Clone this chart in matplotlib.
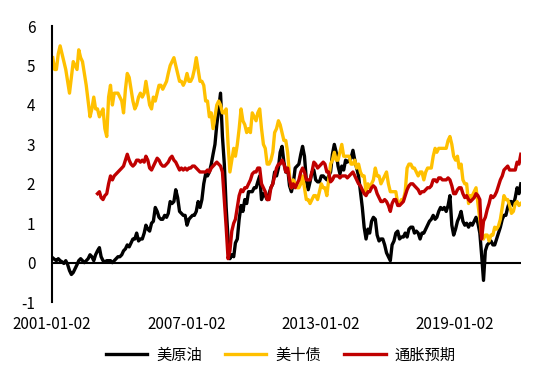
import numpy as np
import pandas as pd
import matplotlib
matplotlib.use('Agg')
import matplotlib.pyplot as plt

plt.rcParams['font.family'] = ['Noto Sans CJK SC', 'DejaVu Sans']
plt.rcParams['axes.unicode_minus'] = False

# 月度数据 2001-01 ~ 2021-12
dates = pd.date_range('2001-01-01', periods=252, freq='MS') + pd.Timedelta(days=14)

# 美原油
oil = [
    0.12, 0.08, 0.05, 0.1, 0.05, 0.02, -0.02, 0.05, -0.05, -0.2, -0.3, -0.25,
    -0.15, -0.05, 0.05, 0.1, 0.05, 0.0, 0.05, 0.1, 0.2, 0.15, 0.05, 0.2,
    0.3, 0.38, 0.15, 0.05, 0.02, 0.05, 0.05, 0.05, 0.0, 0.05, 0.1, 0.15,
    0.15, 0.2, 0.3, 0.35, 0.45, 0.4, 0.5, 0.6, 0.6, 0.75, 0.55, 0.6,
    0.6, 0.75, 0.95, 0.85, 0.8, 1.0, 1.05, 1.4, 1.3, 1.15, 1.1, 1.1,
    1.2, 1.15, 1.25, 1.55, 1.5, 1.55, 1.85, 1.65, 1.3, 1.25, 1.2, 1.2,
    0.95, 1.1, 1.15, 1.2, 1.2, 1.3, 1.55, 1.4, 1.6, 2.0, 2.25, 2.2,
    2.3, 2.5, 2.75, 3.0, 3.5, 3.9, 4.3, 3.2, 2.5, 1.4, 0.6, 0.1,
    0.2, 0.15, 0.5, 0.6, 1.1, 1.45, 1.3, 1.6, 1.5, 1.8, 1.8, 1.8,
    1.9, 1.9, 2.05, 2.2, 1.6, 1.75, 1.7, 1.6, 1.75, 1.9, 2.0, 2.3,
    2.2, 2.4, 2.8, 2.95, 2.55, 2.3, 2.4, 1.95, 1.8, 2.0, 2.4, 2.45,
    2.5, 2.75, 2.95, 2.7, 2.1, 1.85, 2.05, 2.3, 2.35, 2.1, 2.05, 2.05,
    2.2, 2.2, 2.15, 2.1, 2.2, 2.3, 2.75, 3.0, 2.8, 2.45, 2.25, 2.45,
    2.35, 2.6, 2.55, 2.6, 2.65, 2.85, 2.6, 2.4, 2.2, 1.8, 1.4, 0.9,
    0.6, 0.85, 0.75, 1.05, 1.15, 1.1, 0.7, 0.55, 0.6, 0.6, 0.45, 0.25,
    0.15, 0.05, 0.45, 0.55, 0.75, 0.8, 0.6, 0.65, 0.65, 0.75, 0.65, 0.85,
    0.9, 0.9, 0.75, 0.8, 0.75, 0.6, 0.75, 0.75, 0.85, 0.95, 1.05, 1.1,
    1.2, 1.1, 1.15, 1.3, 1.4, 1.35, 1.4, 1.3, 1.45, 1.7, 0.95, 0.7,
    0.85, 1.05, 1.15, 1.3, 1.05, 0.95, 1.0, 0.9, 1.0, 0.95, 1.05, 1.15,
    1.0, 0.75, 0.2, -0.45, 0.3, 0.45, 0.5, 0.55, 0.45, 0.45, 0.6, 0.75,
    0.9, 1.1, 1.2, 1.2, 1.4, 1.55, 1.55, 1.45, 1.65, 1.9, 1.75, 2.0,
]

# 美十债
ust10 = [
    5.2, 4.9, 4.9, 5.3, 5.5, 5.3, 5.1, 4.9, 4.6, 4.3, 4.7, 5.1,
    5.0, 4.9, 5.4, 5.2, 5.1, 4.8, 4.5, 4.1, 3.7, 3.9, 4.2, 3.9,
    3.9, 3.7, 3.8, 3.9, 3.4, 3.2, 4.2, 4.5, 4.0, 4.3, 4.3, 4.3,
    4.2, 4.1, 3.8, 4.4, 4.8, 4.7, 4.4, 4.1, 3.9, 4.0, 4.2, 4.3,
    4.2, 4.3, 4.6, 4.3, 4.0, 3.9, 4.2, 4.1, 4.3, 4.5, 4.5, 4.4,
    4.5, 4.6, 4.8, 5.0, 5.1, 5.2, 5.0, 4.8, 4.6, 4.6, 4.5, 4.6,
    4.8, 4.6, 4.6, 4.7, 4.9, 5.2, 4.9, 4.6, 4.6, 4.5, 4.1, 4.1,
    3.7, 3.8, 3.4, 3.7, 4.0, 4.1, 4.0, 3.8, 3.8, 3.9, 3.0, 2.3,
    2.6, 2.9, 2.7, 3.0, 3.4, 3.9, 3.6, 3.5, 3.3, 3.4, 3.3, 3.8,
    3.7, 3.6, 3.8, 3.9, 3.4, 3.0, 2.9, 2.5, 2.5, 2.6, 2.8, 3.3,
    3.4, 3.6, 3.5, 3.3, 3.1, 3.1, 2.8, 2.2, 1.9, 2.1, 2.0, 1.9,
    1.9, 2.0, 2.2, 1.9, 1.6, 1.6, 1.5, 1.6, 1.7, 1.7, 1.6, 1.8,
    2.0, 1.9, 1.9, 1.7, 2.1, 2.5, 2.6, 2.8, 2.6, 2.6, 2.8, 3.0,
    2.7, 2.7, 2.7, 2.7, 2.5, 2.5, 2.6, 2.4, 2.5, 2.3, 2.2, 2.2,
    1.8, 2.0, 1.9, 2.0, 2.1, 2.4, 2.2, 2.2, 2.0, 2.1, 2.2, 2.3,
    2.0, 1.8, 1.8, 1.8, 1.8, 1.5, 1.5, 1.6, 1.6, 1.8, 2.4, 2.5,
    2.5, 2.4, 2.4, 2.3, 2.2, 2.3, 2.3, 2.1, 2.3, 2.4, 2.4, 2.4,
    2.7, 2.9, 2.8, 2.9, 2.9, 2.9, 2.9, 2.9, 3.1, 3.2, 3.0, 2.7,
    2.6, 2.7, 2.4, 2.5, 2.1, 2.0, 2.0, 1.5, 1.7, 1.7, 1.8, 1.9,
    1.5, 1.1, 0.7, 0.6, 0.7, 0.7, 0.55, 0.7, 0.7, 0.9, 0.85, 0.93,
    1.1, 1.4, 1.7, 1.6, 1.6, 1.45, 1.25, 1.3, 1.5, 1.55, 1.45, 1.5,
]

# 通胀预期 (2003 年起)
bei = [np.nan] * 24 + [
    1.75, 1.8, 1.65, 1.6, 1.7, 1.75, 2.0, 2.2, 2.1, 2.2, 2.25, 2.3,
    2.35, 2.4, 2.45, 2.6, 2.75, 2.6, 2.5, 2.45, 2.5, 2.6, 2.6, 2.55,
    2.6, 2.55, 2.7, 2.6, 2.4, 2.35, 2.45, 2.55, 2.65, 2.6, 2.5, 2.45,
    2.45, 2.5, 2.55, 2.65, 2.7, 2.6, 2.55, 2.45, 2.35, 2.4, 2.35, 2.4,
    2.35, 2.4, 2.4, 2.45, 2.45, 2.4, 2.35, 2.3, 2.3, 2.3, 2.3, 2.35,
    2.3, 2.4, 2.45, 2.5, 2.55, 2.5, 2.45, 2.3, 1.6, 0.9, 0.1, 0.3,
    0.8, 1.0, 1.1, 1.4, 1.7, 1.85, 1.8, 1.9, 1.9, 2.0, 2.1, 2.25,
    2.3, 2.3, 2.4, 2.4, 2.0, 1.9, 1.8, 1.6, 1.6, 1.9, 2.0, 2.2,
    2.4, 2.5, 2.5, 2.6, 2.5, 2.3, 2.4, 2.1, 1.9, 2.0, 1.9, 2.0,
    2.1, 2.3, 2.4, 2.3, 2.1, 2.1, 2.1, 2.3, 2.55, 2.5, 2.4, 2.45,
    2.5, 2.55, 2.5, 2.3, 2.3, 2.05, 2.1, 2.2, 2.2, 2.2, 2.15, 2.2,
    2.2, 2.2, 2.15, 2.2, 2.25, 2.3, 2.2, 2.1, 2.0, 1.95, 1.85, 1.75,
    1.7, 1.8, 1.8, 1.9, 1.95, 1.9, 1.75, 1.65, 1.55, 1.55, 1.6, 1.55,
    1.45, 1.3, 1.5, 1.6, 1.6, 1.45, 1.45, 1.5, 1.55, 1.7, 1.85, 1.95,
    2.0, 2.0, 1.95, 1.9, 1.85, 1.75, 1.8, 1.8, 1.85, 1.9, 1.9, 1.95,
    2.1, 2.1, 2.05, 2.15, 2.15, 2.1, 2.1, 2.1, 2.15, 2.1, 1.95, 1.75,
    1.75, 1.85, 1.9, 1.9, 1.75, 1.65, 1.7, 1.6, 1.55, 1.6, 1.65, 1.75,
    1.7, 1.6, 0.6, 1.05, 1.15, 1.35, 1.5, 1.7, 1.65, 1.7, 1.8, 1.95,
    2.1, 2.2, 2.35, 2.4, 2.45, 2.35, 2.35, 2.35, 2.35, 2.55, 2.5, 2.75,
]

tick_dates = pd.to_datetime(['2001-01-02', '2007-01-02', '2013-01-02', '2019-01-02'])

fig = plt.figure(figsize=(5.5, 3.79), dpi=100)
ax = fig.add_axes([0.0945, 0.203, 0.853, 0.728])

ax.plot(dates, oil, color='#000000', lw=2.4, label='美原油')
ax.plot(dates, ust10, color='#FFC000', lw=2.4, label='美十债')
ax.plot(dates, bei, color='#C00000', lw=2.4, label='通胀预期')
ax.axhline(0, color='black', lw=1.5, zorder=1)

ax.set_xlim(pd.Timestamp('2001-01-02'), pd.Timestamp('2021-12-20'))
ax.set_ylim(-1, 6)
ax.set_yticks(range(-1, 7))
ax.set_xticks(tick_dates)
ax.set_xticklabels([d.strftime('%Y-%m-%d') for d in tick_dates])
ax.tick_params(axis='both', length=0, labelsize=11)
ax.tick_params(axis='y', pad=12)
ax.tick_params(axis='x', pad=10)

for s in ['top', 'right', 'bottom']:
    ax.spines[s].set_visible(False)
ax.spines['left'].set_linewidth(1.5)

ax.legend(loc='center', bbox_to_anchor=(0.488, -0.192), ncol=3, frameon=False,
          fontsize=11, handlelength=2.7, columnspacing=1.5, handletextpad=0.6)

fig.savefig('out.png', dpi=100)
